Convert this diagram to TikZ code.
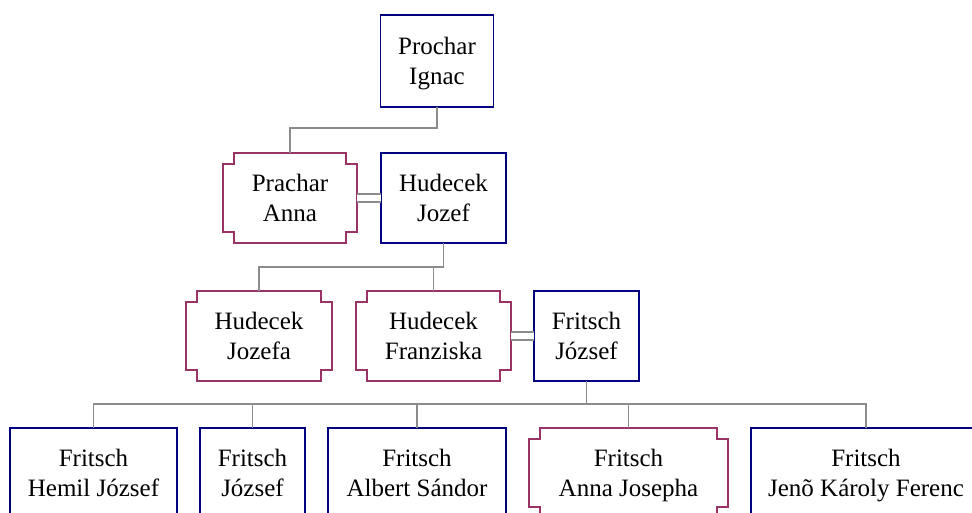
\documentclass[tikz,border=0pt]{standalone}
\usepackage{fontspec}
\setmainfont{Liberation Serif}
\newfontfamily\persfont{Liberation Serif}
\usetikzlibrary{positioning}
\definecolor{manblue}{RGB}{0,0,128}
\definecolor{womanred}{RGB}{153,51,102}
\definecolor{linkgray}{RGB}{140,140,140}
\begin{document}
\begin{tikzpicture}[x=1pt, y=-1pt, node distance = 23pt,
    person/.style = {align=center, inner sep=0pt, outer sep=0pt, text depth=0pt, minimum height=90pt, font=\persfont\fontsize{25}{29.5}\selectfont},
    man/.style = {person, draw=manblue, line width=1.8pt},
    woman/.style = {person, append after command={\pgfextra{\draw[womanred, line width=1.8pt]
        ([xshift=11pt]\tikzlastnode.north west) -- ([xshift=-11pt]\tikzlastnode.north east) -- ++(0pt,-11pt) -- ++(11pt,0pt)
        -- ([yshift=11pt]\tikzlastnode.south east) -- ++(-11pt,0pt) -- ++(0pt,-11pt)
        -- ([xshift=11pt]\tikzlastnode.south west) -- ++(0pt,11pt) -- ++(-11pt,0pt)
        -- ([yshift=-11pt]\tikzlastnode.north west) -- ++(11pt,0pt) -- cycle;}}},
    link/.style = {draw=linkgray, line width=1.8pt},
    marriage/.style = {draw=linkgray, line width=2pt, double=white, double distance=6pt}]
    \useasboundingbox (0,0) rectangle (972,513);
    \node (ignac) [man, minimum width=113pt, minimum height=92pt] at (437,61) {Prochar\\Ignac};
    \node (anna) [woman, minimum width=134pt] at (290,198) {Prachar\\Anna};
    \node (jozef) [man, minimum width=125pt, right=24pt of anna] {Hudecek\\Jozef};
    \node (jozefa) [woman, minimum width=146pt] at (259,336) {Hudecek\\Jozefa};
    \node (franziska) [woman, minimum width=155pt, right=24pt of jozefa] {Hudecek\\Franziska};
    \node (fjozsef) [man, minimum width=105pt, right=of franziska] {Fritsch\\József};
    \node (hemil) [man, minimum width=167pt] at (93.5,473) {Fritsch\\Hemil József};
    \node (jozsef) [man, minimum width=105pt, right=of hemil] {Fritsch\\József};
    \node (albert) [man, minimum width=178pt, right=of jozsef] {Fritsch\\Albert Sándor};
    \node (annaj) [woman, minimum width=199pt, right=of albert] {Fritsch\\Anna Josepha};
    \node (jeno) [man, minimum width=230pt, right=of annaj] {Fritsch\\Jenõ Károly Ferenc};
    \draw[link] (ignac.south) -- ++(0,21) -| (anna.north);
    \draw[marriage] (anna) -- (jozef);
    \draw[link] (jozef.south) -- ++(0,24) coordinate (jk) -| (jozefa.north);
    \draw[link] (franziska.north) -- (franziska.north |- jk);
    \draw[marriage] (franziska) -- (fjozsef);
    \draw[link] (fjozsef.south) -- ++(0,23) coordinate (fk);
    \draw[link] (hemil.north) |- (jeno.north |- fk) -- (jeno.north);
    \foreach \kid in {jozsef, albert, annaj}
        \draw[link] (\kid.north) -- (\kid.north |- fk);
\end{tikzpicture}
\end{document}
